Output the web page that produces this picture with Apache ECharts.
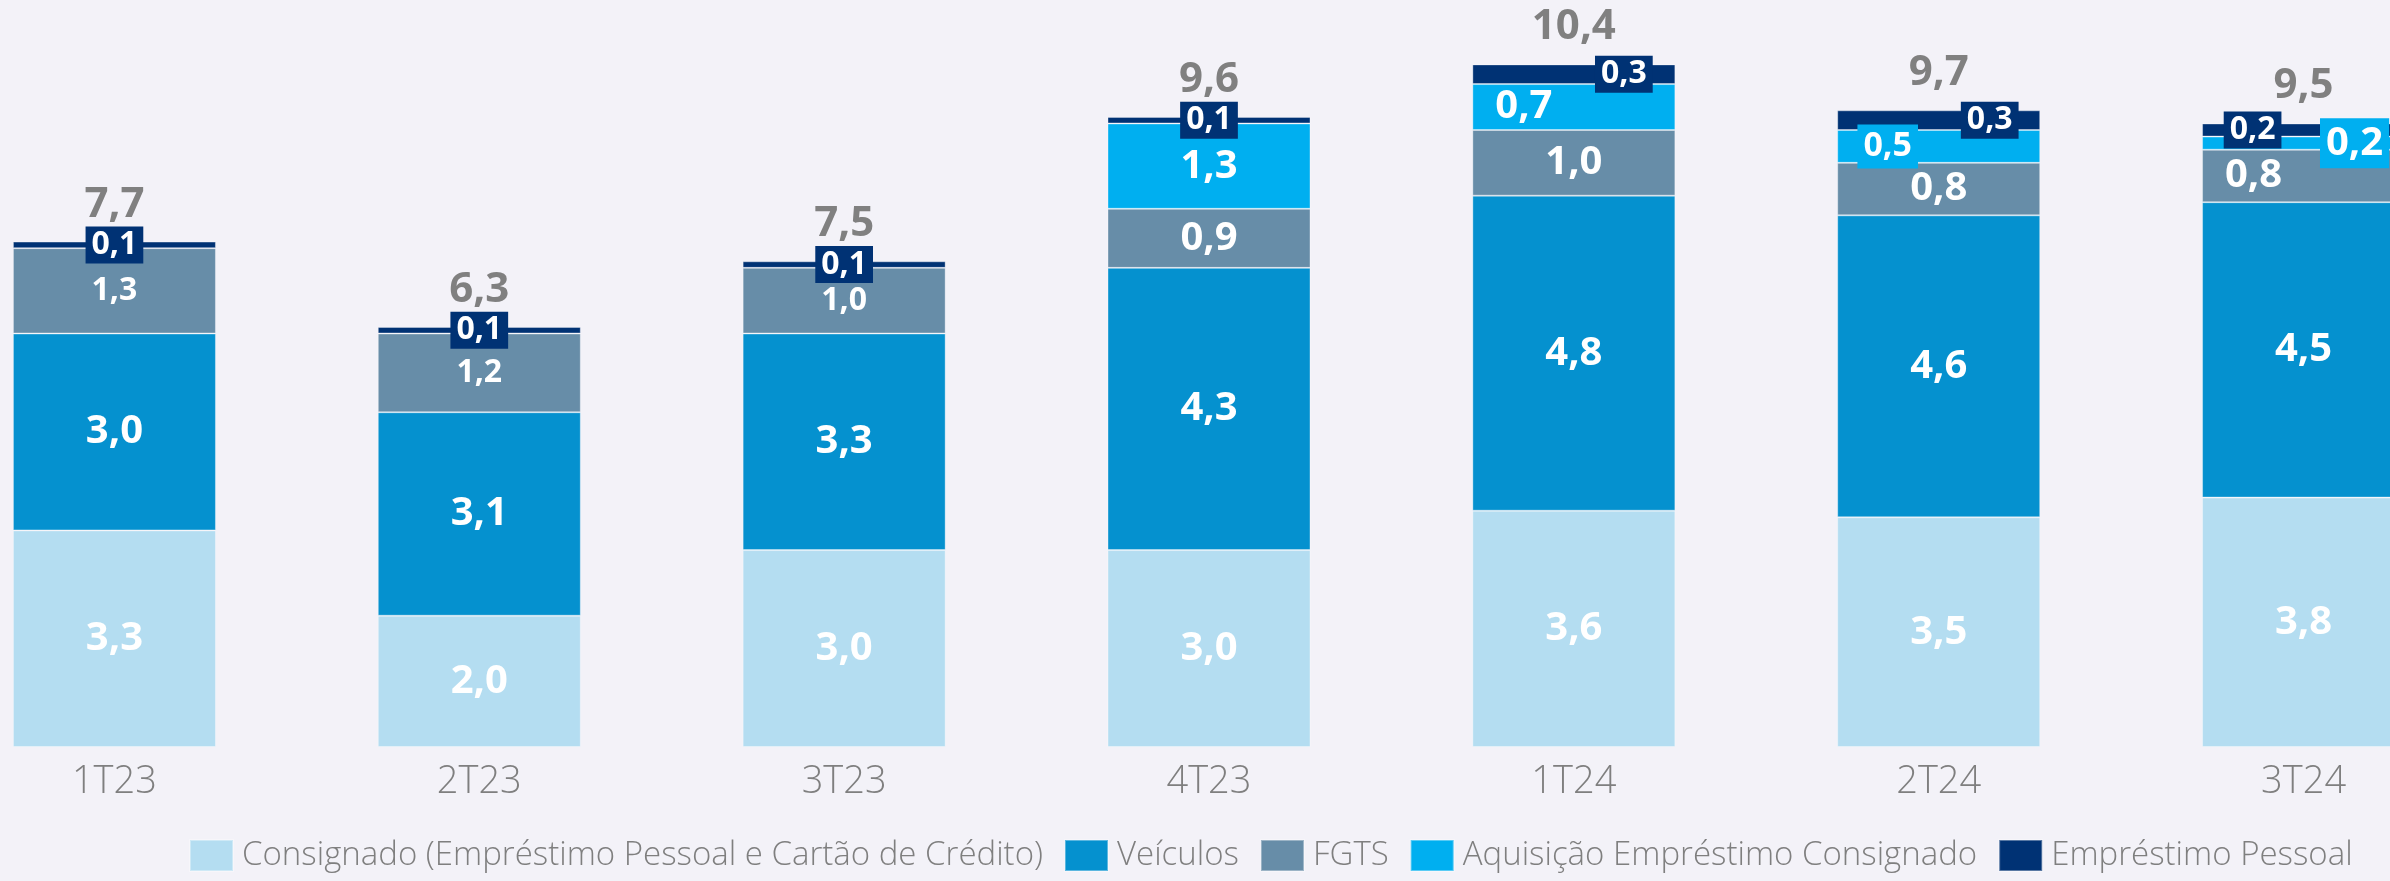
<!DOCTYPE html>
<html lang="pt-BR">
<head>
    <meta charset="UTF-8">
    <title>Originação por produto</title>
    <script src="https://cdn.jsdelivr.net/npm/echarts@6/dist/echarts.min.js"></script>
    <style>
        html, body { margin: 0; padding: 0; background: #f3f2f8; overflow: hidden; }
        /* o grafico original corta a ultima barra: area mais larga que a janela */
        #chart_main { width: 2554px; height: 881px; margin-left: -68px; }
    </style>
</head>
<body>
<div id="chart_main"></div>
<script>
  // dados (R$ bi)
  var categorias = ['1T23', '2T23', '3T23', '4T23', '1T24', '2T24', '3T24'];
  var consignado = [3.3, 2.0, 3.0, 3.0, 3.6, 3.5, 3.8];
  var veiculos = [3.0, 3.1, 3.3, 4.3, 4.8, 4.6, 4.5];
  var fgts = [1.3, 1.2, 1.0, 0.9, 1.0, 0.8, 0.8];
  var aquisicao = [null, null, null, 1.3, 0.7, 0.5, 0.2];
  var emprestimoPessoal = [0.1, 0.1, 0.1, 0.1, 0.3, 0.3, 0.2];
  var totais = [7.7, 6.3, 7.5, 9.6, 10.4, 9.7, 9.5];

  var nomes = [
    'Consignado (Empréstimo Pessoal e Cartão de Crédito)',
    'Veículos',
    'FGTS',
    'Aquisição Empréstimo Consignado',
    'Empréstimo Pessoal'
  ];
  var cores = ['#b4ddf1', '#0591cf', '#678da8', '#00aff0', '#003274'];

  // ajustes dos rotulos (deslocamento horizontal / tamanho)
  var epDx = [0, 0, 0, 0, 50, 51, -51];
  var aqDx = [0, 0, 0, 0, -50, -51, 51];
  var aqCaixa = [false, false, false, false, false, true, true];
  var aqFonte = [40, 40, 40, 40, 40, 34, 40];
  var fgtsDx = [0, 0, 0, 0, 0, 0, -50];
  var fgtsFonte = [32, 32, 32, 40, 40, 40, 40];

  var fonte = '"Open Sans", "Noto Sans", sans-serif';

  function fmt(v) {
    return Number(v).toFixed(1).replace('.', ',');
  }

  function baseLabel(size) {
    return {
      show: true,
      position: 'inside',
      color: '#ffffff',
      fontFamily: fonte,
      fontWeight: 'bold',
      fontSize: size,
      formatter: function(p) { return fmt(p.value); }
    };
  }

  function serie(idx, valores, itemFn) {
    return {
      name: nomes[idx],
      type: 'bar',
      stack: 'total',
      barWidth: 203,
      itemStyle: { color: cores[idx], borderColor: 'rgba(255,255,255,0.35)', borderWidth: 1 },
      label: baseLabel(40),
      data: valores.map(function(v, i) {
        var item = { value: v };
        if (itemFn) { item.label = itemFn(i); }
        return item;
      })
    };
  }

  var myChart = echarts.init(document.getElementById('chart_main'));
  var option = {
    backgroundColor: '#f3f2f8',
    animation: false,
    grid: { left: 0, right: 0, top: 25, bottom: 134 },
    legend: {
      data: nomes,
      left: 252,
      bottom: 4,
      icon: 'rect',
      itemWidth: 43,
      itemHeight: 31,
      itemGap: 21,
      textStyle: { color: '#7f7f7f', fontFamily: fonte, fontWeight: 300, fontSize: 33, padding: [0, 0, 0, 4] }
    },
    xAxis: {
      type: 'category',
      data: categorias,
      axisLine: { show: false },
      axisTick: { show: false },
      axisLabel: { color: '#7f7f7f', fontFamily: fonte, fontWeight: 300, fontSize: 38, margin: 16 }
    },
    yAxis: {
      type: 'value',
      min: 0,
      max: 11,
      show: false,
      splitLine: { show: false }
    },
    series: [
      serie(0, consignado),
      serie(1, veiculos),
      serie(2, fgts, function(i) {
        return { fontSize: fgtsFonte[i], offset: [fgtsDx[i], 0] };
      }),
      serie(3, aquisicao, function(i) {
        var l = { fontSize: aqFonte[i], offset: [aqDx[i], 0] };
        if (aqCaixa[i]) {
          l.backgroundColor = cores[3];
          l.padding = [6, 6, 4, 6];
        }
        return l;
      }),
      serie(4, emprestimoPessoal, function(i) {
        return {
          fontSize: 32,
          offset: [epDx[i], 0],
          backgroundColor: cores[4],
          padding: [3, 6, 2, 6]
        };
      }),
      {
        name: 'Total',
        type: 'bar',
        stack: 'total',
        barWidth: 203,
        itemStyle: { color: 'transparent' },
        label: {
          show: true,
          position: 'top',
          distance: 16,
          color: '#808080',
          fontFamily: fonte,
          fontWeight: 'bold',
          fontSize: 42,
          formatter: function(p) { return fmt(totais[p.dataIndex]); }
        },
        data: categorias.map(function() { return 0; })
      }
    ]
  };
  myChart.setOption(option);
</script>
</body>
</html>
